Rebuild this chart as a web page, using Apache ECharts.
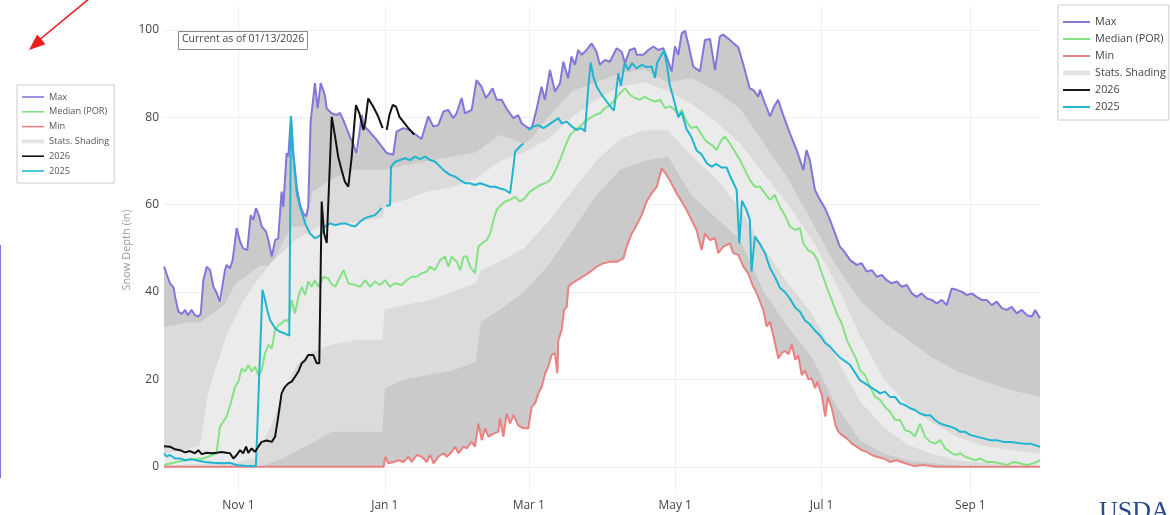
<!DOCTYPE html>
<html><head><meta charset="utf-8">
<script src="https://cdn.jsdelivr.net/npm/echarts@6/dist/echarts.min.js"></script>
<style>html,body{margin:0;padding:0;background:#fff;} #c{width:1170px;height:515px;}</style>
</head><body><div id="c"></div>
<script>
// x = day of water year (0 = Oct 1, leap-year axis, 365 = Sep 30)
const xTickDays = [31, 92, 152, 213, 274, 336];
const xTickLabels = ['Nov 1', 'Jan 1', 'Mar 1', 'May 1', 'Jul 1', 'Sep 1'];
const yTicks = [0, 20, 40, 60, 80, 100];

const maxLine = [[0,45.8],[1,44.3],[2.5,42],[4,41],[4.6,39],[6,35.5],[7.4,35],[8.8,35.9],[10,34.7],[11.5,35.9],[12.9,34.7],[14.3,34.4],[15.3,35],[16.4,42.7],[17.8,45.8],[19.2,45],[20.6,41.2],[22,39.7],[23.3,37.8],[24,38],[25.4,45],[26.1,46.2],[27.5,45.4],[28.6,47.3],[30.3,54.6],[31.7,51.5],[33,50],[34.7,49.6],[36.1,57.6],[37.2,56.5],[38.3,59.2],[39.7,57.3],[40.7,55],[42.5,53.8],[43.5,51.9],[44.9,48.1],[46.3,51.9],[47.6,52.3],[49,63],[49.7,59.5],[51.1,71.8],[51.8,71],[52.9,80.2],[53.9,71.8],[55.3,64],[56.7,59.9],[58,58],[59.2,57.3],[60.1,59.5],[61.1,79],[62.9,87.8],[64,82],[65.3,87.8],[67,85.1],[67.8,82],[69.8,80.9],[71.9,80.5],[73.3,81],[74.7,79.4],[77.5,75.5],[80.3,71.8],[81,71.5],[82.4,80.5],[83.3,78],[85,77.1],[88.6,74.8],[92.8,71.8],[95.5,71.4],[96.9,76.7],[99.7,77.5],[102.5,77],[105,76],[107.3,75],[110.1,80.2],[112.2,77.9],[114.3,78.2],[116.4,81.3],[118.4,81.7],[120.5,79.8],[121.9,80.9],[124,84.4],[125.4,80.9],[126.8,81.3],[128.2,81.7],[130.2,88.5],[132.3,87],[134.1,84.4],[135.1,85.1],[136.9,86.6],[138.6,84],[140.7,84],[142.7,82],[145.5,79.8],[147.6,80.5],[149,78.6],[151.8,77.5],[153.2,77.5],[155.2,81.7],[157.3,87],[158.7,84],[160.8,90.8],[162.9,85.9],[165,87.8],[166.4,92.7],[168.4,88.9],[169.8,93.9],[171.2,92],[172.6,95.4],[174,94.3],[176.1,95.4],[178.2,96.9],[180.2,95],[181.6,92],[183.7,93.1],[185.8,92.7],[188.6,95.8],[190.7,95],[192.1,92.4],[194.1,95.4],[196.2,95.8],[196.9,94.3],[199.7,94.3],[201.8,95.4],[203.9,96.2],[206,95.4],[208,95.8],[209.4,93.9],[211.5,90.5],[212.9,96.2],[214.3,94.3],[215.7,99.2],[217.1,99.8],[218.4,96.9],[220.5,91.6],[223.3,90.5],[225.4,97.7],[227.5,97.9],[229.6,90.8],[231.6,98.5],[233,98.9],[235.1,98],[237.2,97],[239.3,96],[241.4,92],[244.1,86.5],[245.5,86.3],[247.6,84.7],[248.3,86.3],[250.4,83.2],[252.5,80.2],[253.9,82.1],[255.9,84],[258,80.5],[260.8,76.3],[263.6,72.5],[266.4,67.9],[267.7,72.5],[269.1,70.2],[271.2,63.4],[273.3,61.1],[275.4,59.2],[277.5,56.5],[279.6,53.4],[281.6,50.4],[283,49.6],[285.9,47.3],[288.6,46.2],[290.7,46.6],[292.8,44.7],[294.9,45],[297,43.5],[299.1,43.9],[301.1,42.7],[303.2,42],[305.3,42.4],[307.4,41.2],[309.5,41.6],[311.6,39.7],[313.6,38.9],[315.7,39.7],[317.8,38.5],[319.9,38.2],[322,37.4],[324.1,38.2],[326.1,37],[328.2,40.8],[330.3,40.5],[332.4,40.1],[334.5,39.3],[336.6,39.7],[338.6,38.9],[340.7,38.2],[342.8,38.2],[344.9,37],[347,37.8],[349.1,36.3],[351.1,35.9],[353.2,36.6],[355.3,35.1],[357.4,35.9],[359.5,34.7],[361.6,34.4],[363,35.9],[365,34]];

const medianLine = [[0,0.4],[5.3,1.1],[10.8,1.7],[16.4,1.9],[21.9,3.1],[23.3,9.2],[24.7,10.3],[26.1,11.5],[28.2,15.3],[29.6,18.3],[31,19.5],[32.4,22.5],[33.8,21.8],[35.1,23.3],[36.5,21.8],[37.9,22.9],[39.3,21],[40.7,22.1],[42.1,26],[43.5,27.9],[44.9,27.1],[46.3,31.3],[47.6,32.4],[49,32.8],[50.4,33.6],[51.8,33.2],[53.2,38.2],[54.6,35.1],[56,38.9],[57.4,41.2],[58.8,39.3],[60.1,42.4],[61.5,41.2],[62.9,42.7],[64.3,41.2],[66.4,43.5],[68.5,43.1],[69.5,42],[71.3,41.2],[73.4,43.5],[74.8,45],[76.8,42],[79.6,41.6],[81.7,41.2],[83.8,42.7],[85.9,41.2],[87.9,42.4],[90,41.6],[92.1,42.7],[94.2,41.2],[96.3,42],[99,41.6],[101.1,42.7],[103.2,43.5],[105.3,43.5],[107.4,44.3],[109.5,44.7],[110.9,45.8],[112.9,45],[115,47.3],[117.1,48.1],[118.5,45.8],[119.9,48.1],[122,46.9],[123.4,45],[124.8,48.1],[126.1,48.1],[127.5,45.8],[129.6,44.3],[131,50.4],[132.4,51.1],[134.5,51.9],[135.9,53.4],[137.3,56.5],[138.6,58.8],[140,59.7],[142.1,60.7],[144.2,61.1],[146.3,61.8],[148.3,60.7],[150.4,61.5],[152.5,63],[154.6,63.7],[156.7,64.5],[158.8,64.9],[160.8,65.6],[162.9,67.6],[165,70.2],[167.1,73.3],[169.2,75.9],[171.3,77.1],[173.3,77.9],[175.4,79],[177.5,79.8],[179.6,80.5],[181.7,80.9],[183.8,82.1],[185.8,82.8],[187.9,84],[190,85.5],[192.1,86.6],[194.2,85.1],[196.3,84.4],[198.3,84],[200.4,84.7],[202.5,84],[204.6,83.6],[206.7,84],[208.8,82.1],[210.8,82.5],[212.9,81.7],[214.3,80.5],[215.7,81.7],[217.7,79],[219.8,77.5],[221.9,77.9],[224,76],[226.1,74.4],[228.2,73.7],[230.2,72.5],[232.3,74.8],[233.7,75.6],[235.8,74],[237.9,72.1],[240,70.2],[242.1,67.9],[244.1,65.6],[246.2,64.1],[248.3,64.1],[250.4,62.6],[252.5,61.1],[254.5,62.2],[256.6,59.5],[258.7,57.6],[260.8,55],[262.9,54.2],[265,54.6],[266.4,51.1],[268.4,49.6],[270.5,48.9],[272.3,47.3],[274.1,44.3],[276.1,41.2],[278.2,38.2],[280.3,35.1],[282.4,32.8],[284.5,29],[286.6,26.7],[288.6,24.4],[290,22.1],[292.1,21],[294.2,18.3],[296.3,16],[298.4,15.3],[300.4,13.7],[302.5,12.6],[304.6,10.7],[306.7,10.7],[308.8,8.4],[310.9,8],[312.9,6.9],[315,9.9],[317.1,6.9],[319.2,5.7],[321.3,5.3],[323.4,6.1],[325.5,4.2],[327.5,3.4],[329.6,2.7],[331.7,3.1],[333.8,2.3],[335.9,1.9],[338,1.5],[340,1.9],[342.8,1.1],[345.6,1.1],[348.4,0.8],[351.1,0.4],[353.9,1.1],[356.7,0.8],[359.5,0.4],[362.3,0.8],[365,1.5]];

const minLine = [[0,0],[91.5,0],[92.2,2.3],[93.5,0.8],[95.6,1.1],[97.7,1.5],[99.8,1.1],[101.8,2.3],[103.2,1.1],[105.3,2.7],[107.4,2.3],[109.5,1.1],[110.9,2.7],[112.3,0.8],[114.3,2.3],[116.4,3.1],[117.8,2.3],[119.9,3.4],[121.3,4.6],[122.7,3.1],[124.8,4.6],[126.1,4.2],[128.2,5.7],[129.6,4.6],[131,9.9],[132.4,6.1],[133.8,8.8],[135.2,6.9],[137.3,7.6],[139.3,8],[140,11.1],[141.4,6.9],[142.8,12.2],[144.2,9.9],[145.6,11.8],[147.6,9.5],[149.7,8.8],[151.8,8.8],[153.2,13.7],[154.6,14.5],[156,16.8],[157.4,18.3],[158.8,21.4],[160.1,22.9],[161.5,25.6],[162.9,26],[163.9,21.4],[164.3,29],[165.7,31.3],[166.7,35.9],[167.8,36.6],[168.5,41.2],[169.9,42],[173.3,43.1],[176.8,44.3],[180.3,45.8],[183.1,46.6],[185.8,46.9],[188.6,46.9],[191.4,47.7],[192.8,50.4],[194.9,53.4],[196.9,55.3],[199,57.6],[201.1,60.7],[203.2,62.6],[205.3,64.1],[207.4,68.3],[209.4,66.8],[210.8,65.5],[212.2,64.1],[213.6,62.6],[215.7,60.7],[217.7,58.8],[219.8,56.5],[221.9,54.2],[224,49.6],[225.4,53.4],[227.5,51.9],[229.6,52.3],[230.9,48.9],[233,50.4],[235.8,51.1],[237.2,48.9],[239.3,48.5],[241.4,45.8],[243.4,44.3],[245.5,41.2],[246.3,40.5],[247.6,38.9],[249.7,35.9],[251.1,32.1],[252.5,33.2],[253.9,30],[256,24.8],[257.3,26],[258.7,26.5],[260.2,25.8],[261.6,28],[263,24.5],[264.3,25.5],[265.7,21],[267.1,22],[268.5,20],[269.9,20.2],[271.3,18],[272.2,19.5],[274.1,16.4],[275.5,11.5],[276.6,16],[278.2,13.5],[279.8,9.5],[281,8],[282.4,7.3],[284.5,6.5],[286.6,5.3],[288.6,4.6],[290.7,3.8],[292.8,3.4],[294.9,2.7],[297,2.3],[299.8,1.9],[302.5,1.1],[305.3,1.5],[308.8,0.8],[312.3,0.2],[316.4,0.4],[322,0],[365,0]];

const wy2025 = [[0,3.1],[1.1,2.3],[2.5,2.7],[4.6,1.9],[6.7,1.9],[8.8,1.5],[11.5,1.7],[14.3,1.4],[17.1,1.1],[20.6,0.9],[24.7,0.8],[27.5,0.9],[30.3,0.4],[34.4,0.2],[38.3,0.2],[41,40.5],[42,38.5],[43,35.9],[44.2,33.6],[46.3,31.7],[48.3,30.9],[50.4,30.5],[52.2,30],[52.9,80.2],[53.9,71],[55.3,62.6],[56.7,59.5],[58.8,55.7],[60.8,53.4],[62.9,52.3],[65,52.9],[67,55],[69.2,55.7],[71.3,55.3],[73.4,55.6],[75.5,55.7],[77.5,55.3],[79.6,55],[81.7,56.1],[83.8,56.9],[85.9,57.3],[87.9,57.6],[90,58.8],[90.6,59.3],[91.5,'-'],[92.5,59.7],[94.2,59.9],[94.6,68.7],[96.3,69.8],[98.4,70.2],[100.4,70.6],[102.5,70.2],[104.6,71],[106.7,70.4],[108.8,71],[110.9,70.2],[113,69.8],[115,68.7],[117.1,67.6],[119.2,66.8],[121.3,66.4],[123.4,65.6],[125.5,64.9],[127.5,64.9],[129.6,64.5],[131.7,64.9],[133.8,64.5],[135.9,64.1],[138,64.1],[140,63.7],[142.1,63.4],[144.2,62.6],[144.9,62.2],[145.6,68.7],[146.3,72.1],[148.3,73.3],[149.7,74],[150.8,'-'],[151.8,77.1],[153.9,77.9],[156,78.2],[158.1,77.5],[160.1,78.2],[162.2,79],[164.3,79.8],[165.7,78.6],[167.8,79],[169.9,77.9],[171.9,77.1],[174,77.5],[175.4,76.7],[176.8,87],[177.8,92.5],[178.9,89.3],[180.3,87],[182.4,85.1],[184.4,83.6],[186.5,82.1],[187.5,81.5],[189.3,90.1],[190.4,87.2],[191.9,92.4],[193.5,90.8],[195,92.4],[196.9,91.2],[199,92],[201.1,91.5],[203.2,91.6],[204.6,89],[205.5,92.5],[208.3,95.2],[209.4,92.4],[210.7,87.5],[212.2,84.5],[214.3,80],[215.7,81.2],[217.7,77.3],[219.8,75.4],[221.9,72.4],[224,71.5],[226.1,69.5],[228.2,68.7],[230.2,69.3],[232.3,68.5],[234.4,68.5],[236.5,65.8],[238.6,63.4],[239.7,51.1],[240.8,60.9],[242.7,58.8],[244.1,56.5],[244.8,44.7],[246.2,52.7],[248.3,51],[250.4,48.9],[252.5,45.5],[254.5,43.5],[256.6,41],[258.7,40],[260.8,38.5],[262.9,36.5],[265,35.5],[267.1,33.5],[269.1,32.6],[271.2,31.2],[273.3,30.1],[275.4,28.4],[277.5,27.5],[279.6,26.2],[281.6,25],[283.7,24.2],[285.9,23.3],[288,21.5],[290,19.8],[292.1,19.1],[294.2,18.3],[296.3,17.6],[298.4,16.8],[300.4,17.2],[302.5,16],[304.6,16],[306.7,14.5],[308.8,14.1],[310.9,13.4],[312.9,13],[315,12.2],[317.1,11.8],[319.2,11.8],[321.3,10.7],[323.4,9.9],[325.5,9.5],[327.5,9.2],[329.6,8.8],[331.7,8],[333.8,8],[335.9,7.3],[338.6,6.9],[341.4,6.5],[344.2,6.1],[346.9,6.1],[349.7,5.7],[352.5,5.7],[355.3,5.5],[358.1,5.3],[360.9,5.3],[365,4.6]];

const wy2026 = [[0,4.7],[2.5,4.6],[4.6,4],[6.7,3.8],[8.8,3.3],[10.8,3.6],[12.9,3.1],[14.3,3.8],[15.7,2.9],[17.8,3.2],[19.9,3.1],[22,3.2],[24,3.4],[26.1,3.2],[27.5,3.1],[28.9,1.9],[30.3,2.7],[31.7,3.8],[33,3.1],[34.2,4.6],[35.1,3.2],[36.5,4.2],[37.9,3.4],[39.3,4.6],[40.7,5.7],[42.8,6],[44.9,5.7],[46.3,6.9],[47.6,11.5],[49,16.8],[50.4,18.3],[51.8,19.1],[53.2,19.5],[54.6,20.6],[56,21.8],[57.4,23.7],[58.8,24.4],[60.1,25.6],[62.2,25.6],[63.6,23.7],[64.7,23.7],[65.7,60.7],[66.7,53.4],[67.8,51.2],[69.9,80.1],[71.3,75.5],[72.6,70.9],[74,67.9],[75.4,65.2],[76.8,64.1],[78.2,70.9],[79.2,77.8],[80,82.8],[81.4,80.9],[83.1,77.1],[83.8,78.6],[85.1,84.3],[87.2,82.4],[89.3,80.1],[91.1,77.5],[92,'-'],[92.8,77.1],[93.9,80.5],[95.3,82.8],[96.7,82.4],[98.1,80.1],[99.7,79],[101.8,77.5],[103.2,76.7],[104.2,76]];

// statistics shading boundaries (percentile envelopes)
const p90 = [[0,32],[10,33],[15,33],[20,35],[25,37],[30,42],[35,44],[40,46],[45,46],[50,52],[53,55],[59,55],[62,63],[70,66],[80,68],[92,68],[100,69],[110,70],[120,71],[130,72],[140,76],[150,74],[153,75],[160,80],[170,86],[180,88],[190,90],[200,91],[210,88],[220,89],[230,86],[240,82],[250,74],[260,66],[270,56],[280,46],[290,38],[300,33],[310,29],[320,25],[330,22],[340,20],[350,18],[365,16]];
const p70 = [[0,3],[10,4],[15,5],[18,16],[20,20],[26,30],[33,38],[38,42],[45,47],[55,52],[65,55],[80,56],[91,57],[92,60],[100,61],[110,63],[120,64],[130,66],[140,70],[150,72],[160,75],[170,80],[180,84],[190,87],[200,88],[210,86],[220,83],[230,79],[240,74],[250,67],[260,60],[270,52],[280,42],[290,30],[300,20],[310,14],[320,10],[330,7],[340,5],[350,4],[365,3]];
const p30 = [[0,0.3],[10,0.5],[20,0.8],[30,1],[38,2],[45,10],[50,17],[55,23],[60,26],[70,28],[80,29],[91,29],[92,36],[100,37],[110,38],[120,40],[130,42],[132,45],[140,47],[150,50],[160,56],[170,63],[180,70],[190,75],[200,77],[210,77],[220,71],[230,66],[240,59],[250,50],[260,42],[270,35],[280,25],[290,15],[300,9],[310,5],[320,3],[330,1.5],[340,1],[350,0.5],[365,0.3]];
const p10 = [[0,0],[40,0],[50,2],[60,5],[70,8],[91,8],[92,18],[100,20],[110,21],[120,22],[130,24],[132,33],[140,36],[150,40],[160,46],[170,54],[180,62],[190,68],[200,70],[210,71],[220,62],[230,57],[240,52],[250,40],[260,32],[270,25],[280,14],[290,6],[300,3],[310,1.5],[320,0.8],[330,0.3],[340,0],[365,0]];

const C = { max:'#8176dc', med:'#84e284', min:'#ea8080', y26:'#111111', y25:'#1fb5d0',
            dark:'#cacaca', mid:'#dbdbdb', light:'#ebebeb', shade:'#e4e4e4' };

const bands = [
  { upper: maxLine, lower: minLine, color: C.dark },
  { upper: p90, lower: p10, color: C.mid },
  { upper: p70, lower: p30, color: C.light }
];

const FONT = '"Open Sans", "Noto Sans", sans-serif';
const chart = echarts.init(document.getElementById('c'), null, { renderer: 'canvas' });

function lineSeries(name, data, color, width, z) {
  return { name, type: 'line', data, symbol: 'none', showSymbol: false, connectNulls: false,
           lineStyle: { color, width }, itemStyle: { color }, z, animation: false };
}

const legendNames = ['Max', 'Median (POR)', 'Min', 'Stats. Shading', '2026', '2025'];
const legendData = legendNames.map(n => ({
  name: n,
  icon: n === 'Stats. Shading' ? 'path://M0,0H28V5H0Z' : 'path://M0,0H28V2H0Z'
}));

chart.setOption({
  animation: false,
  textStyle: { fontFamily: FONT },
  grid: { left: 164, right: 130, top: 6.7, bottom: 22, containLabel: false },
  xAxis: {
    type: 'value', min: 0, max: 365,
    axisLine: { show: false }, axisTick: { show: false, customValues: xTickDays },
    axisLabel: { customValues: xTickDays, color: '#444', fontSize: 12, margin: 7, fontFamily: FONT,
                 formatter: v => { const i = xTickDays.indexOf(v); return i >= 0 ? xTickLabels[i] : ''; } },
    splitLine: { show: true, lineStyle: { color: '#ebf0f8', width: 1 } }
  },
  yAxis: {
    type: 'value', min: -6, max: 105.3,
    axisLine: { show: false }, axisTick: { show: false, customValues: yTicks },
    axisLabel: { customValues: yTicks, color: '#444', fontSize: 12, margin: 5, fontFamily: FONT },
    splitLine: { show: true, lineStyle: { color: '#ebf0f8', width: 1 } }
  },
  legend: [
    { data: legendData, orient: 'vertical', left: 1058, top: 5, padding: [10, 3, 6, 5],
      itemWidth: 27, itemHeight: 14, itemGap: 3, borderColor: '#cccccc', borderWidth: 1,
      backgroundColor: '#fff', textStyle: { fontSize: 10.8, lineHeight: 14, color: '#444', fontFamily: FONT },
      selectedMode: false },
    { data: legendData, orient: 'vertical', left: 17, top: 85, padding: [6, 5, 6, 5],
      itemWidth: 22, itemHeight: 12, itemGap: 2.8, borderColor: '#cccccc', borderWidth: 1,
      backgroundColor: '#fff', textStyle: { fontSize: 9.2, lineHeight: 12, color: '#555', fontFamily: FONT },
      selectedMode: false }
  ],
  series: [
    { name: 'shading', type: 'custom', z: 1, silent: true, clip: true,
      data: bands.map((b, i) => [i, 0]),
      renderItem: (params, api) => {
        const b = bands[params.dataIndex];
        const pts = b.upper.map(p => api.coord(p)).concat(b.lower.slice().reverse().map(p => api.coord(p)));
        return { type: 'polygon', shape: { points: pts }, style: { fill: b.color, stroke: null } };
      }
    },
    lineSeries('Stats. Shading', [], C.shade, 6, 2),
    lineSeries('Max', maxLine, C.max, 2, 3),
    lineSeries('Median (POR)', medianLine, C.med, 2, 3),
    lineSeries('Min', minLine, C.min, 2, 3),
    lineSeries('2026', wy2026, C.y26, 2, 5),
    lineSeries('2025', wy2025, C.y25, 2, 4)
  ],
  graphic: [
    { type: 'rect', left: 178, top: 31, shape: { width: 129, height: 18 },
      style: { fill: '#fff', stroke: '#8a8a8a', lineWidth: 1 }, z: 10 },
    { type: 'text', left: 182, top: 34, z: 11,
      style: { text: 'Current as of 01/13/2026', fontSize: 10.5, fill: '#444', fontFamily: FONT } },
    { type: 'text', x: 127, y: 250, rotation: Math.PI / 2, z: 10,
      style: { text: 'Snow Depth (in)', fontSize: 11, fill: '#999', fontFamily: FONT, align: 'center', verticalAlign: 'middle' } },
    { type: 'line', shape: { x1: 90, y1: -2, x2: 38, y2: 41 }, style: { stroke: '#ee1c1c', lineWidth: 1.6 }, z: 20 },
    { type: 'polygon', shape: { points: [[29, 50], [45.5, 44.2], [37.2, 34.6]] }, style: { fill: '#ee1c1c' }, z: 20 },
    { type: 'line', shape: { x1: 0.5, y1: 245, x2: 0.5, y2: 478 }, style: { stroke: '#8176dc', lineWidth: 1 }, z: 20 },
    { type: 'text', left: 1099, top: 499, z: 20,
      style: { text: 'USDA', fontSize: 26, fill: '#294a84', fontFamily: '"Liberation Serif", serif' } }
  ]
});
</script></body></html>
